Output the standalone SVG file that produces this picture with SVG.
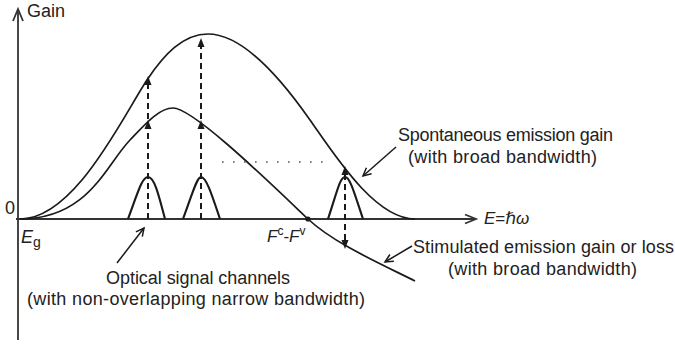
<svg xmlns="http://www.w3.org/2000/svg" width="675" height="344" viewBox="0 0 675 344">
  <style>
    .axis { stroke: #333; stroke-width: 1.8; fill: none; }
    .curve { stroke: #1a1a1a; stroke-width: 1.7; fill: none; }
    .bump { stroke: #1a1a1a; stroke-width: 2.1; fill: none; }
    .dash { stroke: #1a1a1a; stroke-width: 2; stroke-dasharray: 6 4; fill: none; }
    .dot { stroke: #555; stroke-width: 1.6; stroke-dasharray: 1.6 9.4; fill: none; }
    .head { fill: #1a1a1a; stroke: none; }
    .open { stroke: #1a1a1a; stroke-width: 1.5; fill: none; }
    .lbl { font-family: "Liberation Sans", Arial, sans-serif; font-size: 18px; fill: #222; }
    .sym { font-family: "Liberation Sans", "DejaVu Sans", Arial, sans-serif; fill: #222; }
  </style>

  <g id="axes">
    <line class="axis" x1="18" y1="10" x2="18" y2="340"/>
    <polyline class="axis" points="13,21 18,9 23,21"/>
    <line class="axis" x1="16" y1="219" x2="475" y2="219"/>
    <polyline class="axis" points="465,214.5 476,219 465,223.5"/>
  </g>

  <g id="spontaneous-curve">
    <path class="curve" d="M20,219 C75,219 123,116 147,80 C164,54.5 183,34 208,34 C243,34 280,77 310,120 C335,155.5 375,219 415,219"/>
  </g>

  <g id="stimulated-curve">
    <path class="curve" d="M20,219 C88,219 105,166.25 130,140 C145,124.25 159,108 173,108 C193,108 268,181 308,219 C333,242.75 380,263.5 415,281"/>
    <circle cx="308" cy="219" r="2.6" fill="#1a1a1a"/>
  </g>

  <g id="signal-channels">
    <path class="bump" d="M128,219 C138,192 142,177 148,177 C154,177 158,192 165,219"/>
    <path class="bump" d="M183,219 C193,192 197,177 201,177 C206,177 211,192 220,219"/>
    <path class="bump" d="M328,219 C337,192 340,177 345,177 C350,177 354,192 363,219"/>
  </g>

  <g id="connectors">
    <line class="dash" x1="148" y1="219" x2="148" y2="84"/>
    <polygon class="head" points="148,76 144.5,85 151.5,85"/>
    <polygon class="head" points="148,120 144.5,129 151.5,129"/>
    <line class="dash" x1="201" y1="219" x2="201" y2="46"/>
    <polygon class="head" points="201,38 197.5,47 204.5,47"/>
    <polygon class="head" points="201,120 197.5,129 204.5,129"/>
    <line class="dash" x1="345" y1="174" x2="345" y2="241"/>
    <polygon class="head" points="345,166 341.5,175 348.5,175"/>
    <polygon class="head" points="345,249 341.5,240 348.5,240"/>
    <line class="dot" x1="222" y1="162" x2="324" y2="162"/>
    <line class="open" x1="117" y1="263" x2="144" y2="228"/>
    <polyline class="open" points="142.3,236.7 144,228 135.9,231.9"/>
    <line class="open" x1="396" y1="147" x2="363" y2="176"/>
    <polyline class="open" points="371.6,173.7 363,176 366.4,167.7"/>
    <line class="open" x1="412" y1="246" x2="385" y2="262"/>
    <polyline class="open" points="393.9,261.3 385,262 389.9,254.5"/>
  </g>

  <g id="axis-labels">
    <text class="lbl" x="27" y="17" font-size="17">Gain</text>
    <text class="lbl" x="5" y="214" font-size="17">0</text>
    <text class="sym" x="21" y="243" font-size="18"><tspan font-style="italic">E</tspan><tspan font-size="14" dy="4">g</tspan></text>
    <text class="sym" x="267" y="242" font-size="17"><tspan font-style="italic">F</tspan><tspan font-size="12" dy="-7">c</tspan><tspan dy="7">-</tspan><tspan font-style="italic">F</tspan><tspan font-size="12" dy="-7">v</tspan></text>
    <text class="sym" x="484" y="224" font-size="17"><tspan font-style="italic">E</tspan>=<tspan font-style="italic">ℏω</tspan></text>
  </g>

  <g id="label-spontaneous">
    <text class="lbl" x="398" y="141" textLength="215" lengthAdjust="spacing">Spontaneous emission gain</text>
    <text class="lbl" x="408" y="163" textLength="189" lengthAdjust="spacing">(with broad bandwidth)</text>
  </g>

  <g id="label-stimulated">
    <text class="lbl" x="413" y="253" textLength="261" lengthAdjust="spacing">Stimulated emission gain or loss</text>
    <text class="lbl" x="448" y="275" textLength="189" lengthAdjust="spacing">(with broad bandwidth)</text>
  </g>

  <g id="label-optical">
    <text class="lbl" x="106" y="284" textLength="184" lengthAdjust="spacing">Optical signal channels</text>
    <text class="lbl" x="27" y="305" textLength="338" lengthAdjust="spacing">(with non-overlapping narrow bandwidth)</text>
  </g>
</svg>
